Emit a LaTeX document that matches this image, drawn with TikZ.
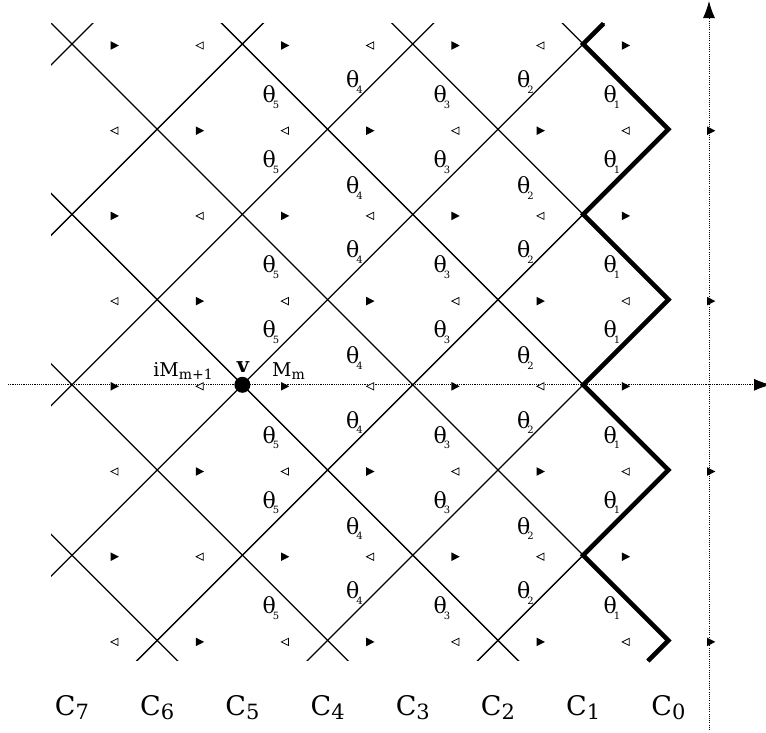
\documentclass[tikz,border=0pt]{standalone}
\usepackage{fontspec}
\setmainfont{DejaVu Serif}
\usetikzlibrary{arrows.meta}
\begin{document}
\begin{tikzpicture}[x=1pt,y=-1pt,
  lat/.style={line width=1.3pt},
  zig/.style={line width=4.6pt, line join=miter},
  axis/.style={line width=0.9pt, dash pattern=on 1.1pt off 1.1pt, -{Latex[length=17pt,width=12pt]}},
  fmark/.style={fill=black},
  omark/.style={draw=black, line width=0.75pt, fill=white},
  thl/.style={inner sep=0pt, anchor=base west, font=\fontsize{22}{22}\selectfont},
  clab/.style={inner sep=0pt, anchor=base, font=\fontsize{27}{27}\selectfont},
  mlab/.style={inner sep=0pt, anchor=base, font=\fontsize{19}{19}\selectfont},
  vertex/.style={circle, fill=black, minimum size=16pt, inner sep=0pt}]
\newcommand\thsub[1]{θ\kern-3pt\raisebox{-5.7pt}{\fontsize{10}{10}\selectfont #1}}
\useasboundingbox (0,0) rectangle (766,732);
% lattice of characteristic lines
\begin{scope}
  \clip (51,23.5) rectangle (668.4,660.8);
  \foreach \k in {-4,...,4}
    \draw[lat] ({28+170.4*\k-50},-50) -- ({28+170.4*\k+750},750);
  \foreach \k in {0,...,8}
    \draw[lat] ({116+170.4*\k+50},-50) -- ({116+170.4*\k-750},750);
\end{scope}
% bold reflecting boundary
\coordinate (z0) at (603.7,23.5);
\coordinate (z1) at (583.2,44);
\coordinate (z2) at (668.4,129.2);
\coordinate (z3) at (583.2,214.4);
\coordinate (z4) at (668.4,299.6);
\coordinate (z5) at (583.2,384.8);
\coordinate (z6) at (668.4,470);
\coordinate (z7) at (583.2,555.2);
\coordinate (z8) at (668.4,640.4);
\coordinate (z9) at (647.9,660.9);
\draw[zig] (z0) -- (z1) -- (z2) -- (z3) -- (z4) -- (z5) -- (z6) -- (z7) -- (z8) -- (z9);
% axes
\coordinate (hx0) at (8,384.8);
\coordinate (hx1) at (771,384.8);
\coordinate (vy0) at (709,730);
\coordinate (vy1) at (709,1);
\draw[axis] (hx0) -- (hx1);
\draw[axis] (vy0) -- (vy1);
% direction markers
\foreach \j in {0,...,7}{
  \foreach \m in {0,...,7}{
    \pgfmathsetmacro\mx{114.6+85.2*\m}
    \pgfmathsetmacro\my{45.5+85.2*\j}
    \pgfmathtruncatemacro\parity{mod(\m+\j,2)}
    \ifnum\parity=0
      \fill[fmark] (\mx-4,\my-4.3) -- (\mx+4.3,\my) -- (\mx-4,\my+4.3) -- cycle;
    \else\ifnum\m<7
      \draw[omark] (\mx+3.5,\my-3.6) -- (\mx-3.7,\my) -- (\mx+3.5,\my+3.6) -- cycle;
    \fi\fi
  }
}
% theta labels
\foreach \n/\x in {5/269,3/440,1/610}{
  \foreach \k in {0,...,3}
    \node[thl] (ta\n\k) at (\x-6.6,{102.4+170.4*\k}) {\thsub{\n}};
  \foreach \k in {0,...,2}
    \node[thl] (tb\n\k) at (\x-6.6,{167.4+170.4*\k}) {\thsub{\n}};
}
\foreach \n/\x in {4/352.5,2/523.5}{
  \foreach \k in {0,...,3}
    \node[thl] (ta\n\k) at (\x-6.6,{87.4+170.4*\k}) {\thsub{\n}};
  \foreach \k in {0,...,2}
    \node[thl] (tb\n\k) at (\x-6.6,{193.4+170.4*\k}) {\thsub{\n}};
}
% column labels
\foreach \i in {0,...,7}{
  \pgfmathtruncatemacro\cn{7-\i}
  \node[clab] (c\cn) at ({72+85.2*\i},715) {C\raisebox{-4pt}{\fontsize{21}{21}\selectfont\cn}};
}
% vertex and labels
\node[vertex] (v) at (242.4,384.8) {};
\node[mlab, font=\bfseries\fontsize{21}{21}\selectfont] (vl) at (243,372) {v};
\node[mlab, anchor=base west] (mm) at (272,376) {M\raisebox{-3pt}{\fontsize{14}{14}\selectfont m}};
\node[mlab, anchor=base east] (im) at (213,376) {iM\raisebox{-3pt}{\fontsize{14}{14}\selectfont m+1}};
\end{tikzpicture}
\end{document}
